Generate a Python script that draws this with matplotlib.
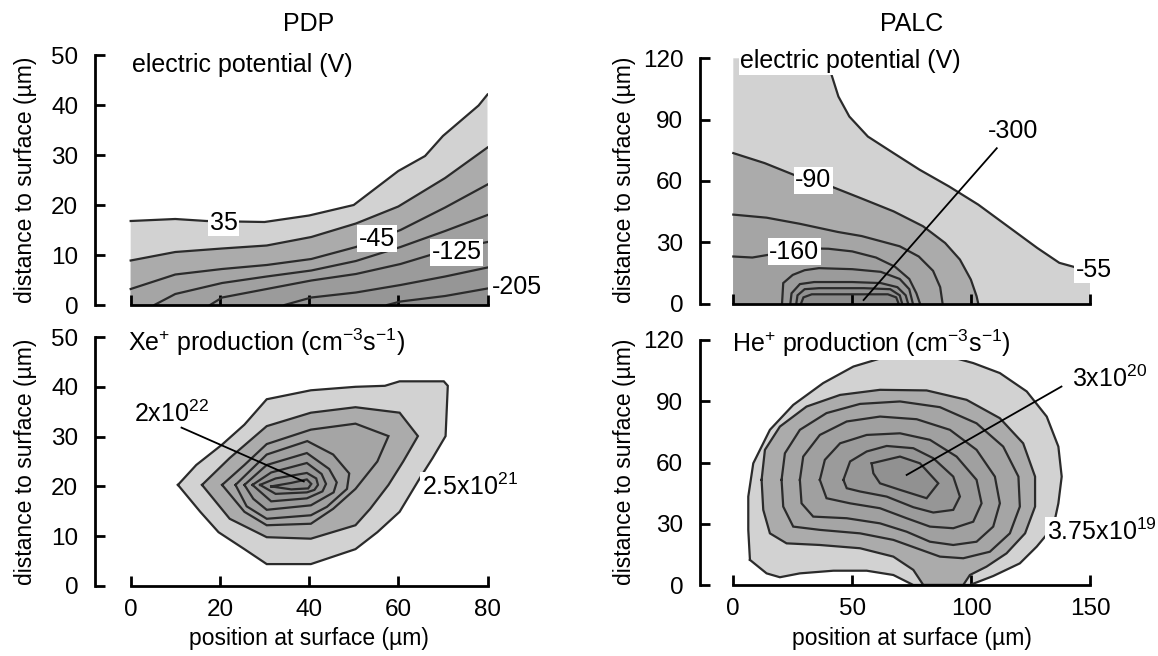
import matplotlib
matplotlib.use("Agg")
import matplotlib.pyplot as plt

plt.rcParams['font.family'] = ['Liberation Sans', 'DejaVu Sans']
plt.rcParams['mathtext.fontset'] = 'custom'
plt.rcParams['mathtext.rm'] = 'Liberation Sans'
plt.rcParams['mathtext.it'] = 'Liberation Sans:italic'
plt.rcParams['mathtext.bf'] = 'Liberation Sans:bold'

# ---------- PDP, electric potential (V): contour lines 35 ... -205 ----------
pdp_v35_x = [0, 10, 17, 30, 40, 50, 60, 66, 70, 78, 80]
pdp_v35_y = [16.8, 17.2, 16.8, 16.6, 17.9, 20.0, 26.8, 29.8, 33.8, 39.9, 42.1]
pdp_vm5_x = [0, 10, 20.5, 30.5, 40.5, 50.5, 60, 70.5, 80]
pdp_vm5_y = [8.9, 10.6, 11.3, 11.9, 13.6, 16.3, 19.7, 25.4, 31.5]
pdp_vm45_x = [0, 10, 20.5, 30.5, 40.5, 50.5, 60.5, 70.5, 80]
pdp_vm45_y = [3.2, 6.1, 7.2, 8.0, 9.2, 11.6, 15.0, 19.5, 24.1]
pdp_vm85_x = [5.3, 10, 20.5, 30.5, 40.5, 50.5, 60.5, 70.5, 80]
pdp_vm85_y = [0, 2.2, 4.4, 5.7, 6.9, 8.8, 11.6, 14.8, 18.0]
pdp_vm125_x = [17.8, 20.5, 30.5, 40.5, 50.5, 60.5, 70.5, 80]
pdp_vm125_y = [0, 1.5, 3.2, 4.9, 6.2, 8.2, 10.9, 12.6]
pdp_vm165_x = [34.5, 40.5, 50.5, 60.5, 70.5, 80]
pdp_vm165_y = [0, 1.5, 2.5, 4.0, 5.7, 7.5]
pdp_vm205_x = [57.5, 60.5, 70.5, 80]
pdp_vm205_y = [0, 0.7, 1.8, 3.3]

# ---------- PALC, electric potential (V) ----------
palc_vm55_x = [40, 41.1, 44.2, 48.8, 56.6, 67.4, 78.3, 90.7, 103, 115.4, 127.8, 137.1, 143.3, 150]
palc_vm55_y = [120, 112.7, 101.3, 91.5, 81.7, 73.6, 65.5, 57.3, 48.4, 37.8, 27.2, 19.9, 17.9, 14]
palc_vm90_x = [0, 13.2, 27.1, 41.1, 53.5, 67.4, 79.8, 89.1, 95.3, 99.9, 102.3, 103]
palc_vm90_y = [73.6, 68.7, 62.2, 57.3, 51.6, 45.1, 37.8, 29.6, 21.5, 11.7, 3.6, 0]
palc_vm125_x = [0, 14, 28, 44, 54, 62, 70, 78, 84, 87, 88]
palc_vm125_y = [43.5, 42, 39, 35, 33, 30.5, 28, 23, 16, 8, 0]
palc_vm160_x = [0, 8, 31, 40, 50, 60, 68, 74, 77, 78.5]
palc_vm160_y = [23, 22.5, 27, 26.8, 25.5, 22.5, 18, 12, 5, 0]
palc_vm195_x = [20.5, 21, 25, 30, 36, 50, 62, 70, 74, 75.5]
palc_vm195_y = [0, 10, 14, 16.3, 17.3, 16.8, 15.5, 12, 7, 0]
palc_vm230_x = [24, 24.5, 28, 34, 50, 62, 69, 72.5, 73.5]
palc_vm230_y = [0, 5, 9.5, 10.5, 10.5, 10, 8, 4, 0]
palc_vm265_x = [26.5, 27, 30, 36, 55, 66, 70, 71]
palc_vm265_y = [0, 4, 7, 7.5, 7.5, 7, 4, 0]
palc_vm300_x = [28.5, 29.5, 33, 50, 65, 68.5, 69.5]
palc_vm300_y = [0, 3, 4.5, 4.5, 4.5, 3, 0]

# ---------- PDP, Xe+ production: closed contours, outer to inner ----------
xe_c1_x = [10.6, 14.7, 20.5, 25.5, 30.5, 40.4, 50.4, 57, 60.3, 70.2, 71.1, 70.6, 67.7, 64.8, 60.3, 55.3, 50.4, 40.4, 30.5, 25.5, 19.7, 15.6]
xe_c1_y = [20.3, 24.3, 28.4, 32.4, 37.5, 39.3, 40.0, 40.2, 41.1, 41.1, 40.2, 30.1, 25.7, 21.6, 14.9, 10.8, 7.4, 4.4, 4.4, 7.4, 10.8, 14.9]
xe_c2_x = [16, 22.2, 30.5, 40.4, 50.4, 60.3, 64.4, 61.1, 57.8, 53.7, 50.4, 40.4, 30.5, 22.2]
xe_c2_y = [20.3, 25.7, 32.1, 34.8, 35.9, 34.8, 30.1, 25, 20.3, 15.5, 12.2, 9.5, 9.8, 13.5]
xe_c3_x = [20.5, 25.5, 30.5, 40.4, 50.4, 57.8, 55.3, 50.4, 45.4, 40.4, 30.5, 25.5]
xe_c3_y = [20.3, 24.3, 28.5, 31.4, 32.6, 30.1, 25, 19.5, 15.5, 12.5, 12.2, 14.9]
xe_c4_x = [23.5, 30.5, 39.6, 45.4, 49, 48.5, 44, 40.4, 30.5, 26]
xe_c4_y = [20.3, 26.4, 29.1, 26.4, 22.6, 19.5, 15.9, 14.2, 13.5, 16]
xe_c5_x = [25.5, 30.5, 39.5, 44.5, 46.2, 45.5, 40.4, 30.5, 27.5]
xe_c5_y = [20.3, 24.3, 26.7, 23.5, 20.8, 18.8, 16.2, 15.3, 17.5]
xe_c6_x = [27.3, 31.5, 39.5, 42.8, 43.8, 43, 39.5, 31.5]
xe_c6_y = [20.3, 22.8, 24.7, 22.5, 20.5, 19, 17.6, 17.0]
xe_c7_x = [29, 32.5, 39.5, 41.6, 42, 41.2, 39.5, 32.5]
xe_c7_y = [20.3, 21.6, 22.7, 21.6, 20.3, 19.3, 18.8, 18.5]
xe_c8_x = [31.5, 36, 39.5, 40.5, 39.8, 36]
xe_c8_y = [20.0, 20.7, 21.4, 20.5, 19.6, 19.4]

# ---------- PALC, He+ production ----------
he_c1_x = [7.0, 14.0, 19.6, 28.0, 42.1, 56.1, 67.3, 75.7, 99.5, 109.3, 120.5, 127.6, 134.6, 136.7, 138.1, 136.7,
           131.8, 123.4, 112.1, 100.9, 89.7, 77.1, 64.5, 50.5, 37.8, 25.2, 15.4, 8.4, 6.3, 6.3]
he_c1_y = [12.3, 5.7, 3.8, 5.7, 7.0, 7.0, 4.9, 0, 0, 4.4, 10.6, 18.8, 28.6, 40.0, 53.1, 67.8,
           82.5, 94.8, 103.8, 108.7, 112.3, 113.2, 111.9, 107.0, 98.9, 88.2, 76.0, 59.6, 43.3, 27.0]
he_c2_x = [11.9, 13.3, 19.6, 30.8, 44.9, 61.7, 81.3, 98.1, 112.1, 121.9, 126.9, 126.9, 122.7, 114.9, 106.5,
           99.5, 96.7, 79.9, 75.7, 67.3, 53.3, 36.4, 22.4, 15.4, 12.6]
he_c2_y = [51.5, 66.2, 77.6, 87.4, 93.1, 95.6, 95.3, 90.7, 81.7, 69.4, 53.1, 38.4, 25.3, 15.5, 9.0,
           4.9, 0, 0, 7.4, 13.9, 18.0, 19.6, 20.4, 25.3, 36.8]
he_c3_x = [20.3, 21.7, 28.0, 39.2, 53.3, 70.1, 86.9, 102.3, 113.5, 119.9, 120.5, 116.3, 107.9, 96.7, 86.9,
           77.1, 67.3, 53.3, 36.4, 25.2, 21.0]
he_c3_y = [51.5, 64.5, 76.0, 84.2, 88.7, 89.9, 87.1, 79.2, 67.8, 53.1, 38.4, 25.3, 16.3, 13.1, 13.9,
           18.0, 22.1, 25.3, 27.0, 28.6, 38.4]
he_c4_x = [28.0, 29.4, 36.4, 47.7, 61.7, 77.1, 91.1, 102.3, 110.0, 112.1, 109.3, 102.3, 92.5, 82.7, 72.9,
           61.7, 47.7, 33.6, 28.7]
he_c4_y = [51.5, 62.9, 73.5, 80.1, 82.5, 81.2, 76.0, 66.2, 53.1, 40.0, 28.6, 21.2, 19.6, 21.2, 26.1,
           30.2, 32.7, 33.5, 40.0]
he_c5_x = [36.4, 38.5, 44.9, 56.1, 70.1, 82.7, 93.9, 102.3, 104.4, 100.9, 92.5, 82.7, 72.9, 61.7, 49.1, 39.2]
he_c5_y = [51.5, 61.3, 69.4, 73.5, 74.3, 71.1, 62.9, 51.5, 40.0, 31.0, 27.8, 28.6, 32.7, 37.6, 40.0, 42.5]
he_c6_x = [46.3, 49.1, 56.1, 64.5, 75.7, 84.1, 92.5, 95.3, 92.5, 84.1, 75.7, 64.5, 53.3, 47.7]
he_c6_y = [51.5, 60.5, 65.4, 68.1, 67.0, 62.1, 53.1, 43.3, 36.8, 35.5, 38.1, 43.3, 45.8, 47.4]
he_c7_x = [58.2, 70.1, 78.5, 86.2, 81.3, 70.1, 61.7, 58.9]
he_c7_y = [59.6, 62.9, 59.6, 49.8, 42.5, 46.6, 49.8, 54.7]

x_ticks_pdp = [0, 20, 40, 60, 80]
y_ticks_pdp = [0, 10, 20, 30, 40, 50]
x_ticks_palc = [0, 50, 100, 150]
y_ticks_palc = [0, 30, 60, 90, 120]

# band colours (outer light, then a little darker inwards)
shades = ['#d2d2d2', '#ababab', '#a5a5a5', '#a0a0a0', '#9b9b9b', '#969696', '#919191', '#8c8c8c', '#888888']
line_col = '#2b2b2b'
lw_c = 1.6
fs = 18

W, H = 1158.0, 656.0
fig = plt.figure(figsize=(11.58, 6.56), dpi=100)


def make_axes(left, bottom_px, width, height, xlim, ylim, xt, yt, xlabels):
    ax = fig.add_axes([left / W, 1 - bottom_px / H, width / W, height / H])
    ax.set_xlim(*xlim)
    ax.set_ylim(*ylim)
    for s in ['top', 'right']:
        ax.spines[s].set_visible(False)
    ax.spines['left'].set_linewidth(2)
    ax.spines['bottom'].set_linewidth(2)
    ax.spines['bottom'].set_bounds(xt[0], xt[-1])
    ax.set_xticks(xt)
    ax.set_yticks(yt)
    ax.tick_params(axis='both', direction='in', length=7.5, width=2, labelsize=17.5)
    ax.tick_params(axis='y', pad=12)
    ax.tick_params(axis='x', pad=9.5, labelbottom=xlabels)
    return ax


ax_tl = make_axes(95, 305, 392.5, 250, (-8, 80), (0, 50), x_ticks_pdp, y_ticks_pdp, False)
ax_tr = make_axes(700, 303.5, 390, 245.2, (-14, 150), (0, 120), x_ticks_palc, y_ticks_palc, False)
ax_bl = make_axes(95, 586, 392.5, 249, (-8, 80), (0, 50), x_ticks_pdp, y_ticks_pdp, True)
ax_br = make_axes(700, 585, 390, 245, (-14, 150), (0, 120), x_ticks_palc, y_ticks_palc, True)


def under_line(ax, xs, ys, color, lead=None):
    # fill everything between the line and the surface (y = 0)
    px = [xs[0]] + list(xs) + [xs[-1]]
    py = [0] + list(ys) + [0]
    if lead is not None:
        px = [lead[0][0], lead[1][0]] + list(xs) + [xs[-1]]
        py = [lead[0][1], lead[1][1]] + list(ys) + [0]
    ax.fill(px, py, color=color, lw=0, zorder=1)


def draw_line(ax, xs, ys, closed=False):
    xs = list(xs)
    ys = list(ys)
    if closed:
        xs = xs + xs[:1]
        ys = ys + ys[:1]
    ax.plot(xs, ys, color=line_col, lw=lw_c, zorder=2, solid_joinstyle='miter')


box = dict(facecolor='white', edgecolor='none', pad=1.0)

# ---------- top left ----------
pdp_lines = [(pdp_v35_x, pdp_v35_y), (pdp_vm5_x, pdp_vm5_y), (pdp_vm45_x, pdp_vm45_y),
             (pdp_vm85_x, pdp_vm85_y), (pdp_vm125_x, pdp_vm125_y), (pdp_vm165_x, pdp_vm165_y),
             (pdp_vm205_x, pdp_vm205_y)]
for i, (lx, ly) in enumerate(pdp_lines):
    under_line(ax_tl, lx, ly, shades[i])
for lx, ly in pdp_lines:
    draw_line(ax_tl, lx, ly)
ax_tl.text(0.2, 48, 'electric potential (V)', fontsize=fs, va='center', ha='left')
ax_tl.text(20.8, 16.5, '35', fontsize=fs, ha='center', va='center', bbox=box, zorder=5)
ax_tl.text(55.2, 13.3, '-45', fontsize=fs, ha='center', va='center', bbox=box, zorder=5)
ax_tl.text(73.1, 10.6, '-125', fontsize=fs, ha='center', va='center', bbox=box, zorder=5)
ax_tl.text(86.6, 3.5, '-205', fontsize=fs, ha='center', va='center', clip_on=False, zorder=5)

# ---------- top right ----------
under_line(ax_tr, palc_vm55_x, palc_vm55_y, shades[0], lead=[(0, 0), (0, 120)])
palc_lines = [(palc_vm90_x, palc_vm90_y), (palc_vm125_x, palc_vm125_y), (palc_vm160_x, palc_vm160_y),
              (palc_vm195_x, palc_vm195_y), (palc_vm230_x, palc_vm230_y), (palc_vm265_x, palc_vm265_y),
              (palc_vm300_x, palc_vm300_y)]
for i, (lx, ly) in enumerate(palc_lines):
    under_line(ax_tr, lx, ly, shades[i + 1])
draw_line(ax_tr, palc_vm55_x, palc_vm55_y)
for lx, ly in palc_lines:
    draw_line(ax_tr, lx, ly)
ax_tr.text(2.9, 118.5, 'electric potential (V)', fontsize=fs, va='center', ha='left', bbox=box, zorder=5)
ax_tr.text(33.6, 60.2, '-90', fontsize=fs, ha='center', va='center', bbox=box, zorder=5)
ax_tr.text(25.6, 25.4, '-160', fontsize=fs, ha='center', va='center', bbox=box, zorder=5)
ax_tr.text(151.7, 16.5, '-55', fontsize=fs, ha='center', va='center', bbox=box, zorder=5)
ax_tr.text(117.6, 84.6, '-300', fontsize=fs, ha='center', va='center', zorder=5)
ax_tr.plot([110.8, 54.8], [76, 1.7], color='black', lw=1.3, zorder=4)

# ---------- bottom left ----------
xe_rings = [(xe_c1_x, xe_c1_y), (xe_c2_x, xe_c2_y), (xe_c3_x, xe_c3_y), (xe_c4_x, xe_c4_y),
            (xe_c5_x, xe_c5_y), (xe_c6_x, xe_c6_y), (xe_c7_x, xe_c7_y), (xe_c8_x, xe_c8_y)]
for i, (rx, ry) in enumerate(xe_rings):
    ax_bl.fill(rx, ry, color=shades[i], lw=0, zorder=1)
for rx, ry in xe_rings:
    draw_line(ax_bl, rx, ry, closed=True)
ax_bl.text(-0.6, 49.0, 'Xe$^{+}$ production (cm$^{-3}$s$^{-1}$)', fontsize=fs, va='center', ha='left')
ax_bl.text(0.7, 34.5, '2x10$^{22}$', fontsize=fs, va='center', ha='left', zorder=5)
ax_bl.plot([11.4, 38.8], [31.8, 21.0], color='black', lw=1.3, zorder=4)
ax_bl.text(65.3, 19.9, '2.5x10$^{21}$', fontsize=fs, va='center', ha='left', bbox=box, zorder=5,
           clip_on=False)

# ---------- bottom right ----------
he_rings = [(he_c1_x, he_c1_y), (he_c2_x, he_c2_y), (he_c3_x, he_c3_y), (he_c4_x, he_c4_y),
            (he_c5_x, he_c5_y), (he_c6_x, he_c6_y), (he_c7_x, he_c7_y)]
for i, (rx, ry) in enumerate(he_rings):
    ax_br.fill(rx, ry, color=shades[i], lw=0, zorder=1)
for rx, ry in he_rings:
    draw_line(ax_br, rx, ry, closed=True)
ax_br.text(-0.7, 118.6, 'He$^{+}$ production (cm$^{-3}$s$^{-1}$)', fontsize=fs, va='center', ha='left',
           bbox=box, zorder=5)
ax_br.text(142.4, 101, '3x10$^{20}$', fontsize=fs, va='center', ha='left', zorder=5, clip_on=False)
ax_br.plot([138, 72.9], [97.2, 53.9], color='black', lw=1.3, zorder=4)
ax_br.text(131.9, 26.1, '3.75x10$^{19}$', fontsize=fs, va='center', ha='left', bbox=box, zorder=5,
           clip_on=False)

# ---------- titles and axis labels ----------
fig.text(309 / W, 1 - 24 / H, 'PDP', fontsize=18, ha='center', va='center')
fig.text(912 / W, 1 - 24 / H, 'PALC', fontsize=18, ha='center', va='center')
for cx in [26, 624]:
    for cy in [180, 462]:
        fig.text(cx / W, 1 - cy / H, 'distance to surface (µm)', fontsize=16.5, rotation=90,
                 ha='center', va='center')
fig.text(309 / W, 1 - 638 / H, 'position at surface (µm)', fontsize=16.5, ha='center', va='center')
fig.text(912 / W, 1 - 638 / H, 'position at surface (µm)', fontsize=16.5, ha='center', va='center')

fig.savefig('out.png', dpi=100)
